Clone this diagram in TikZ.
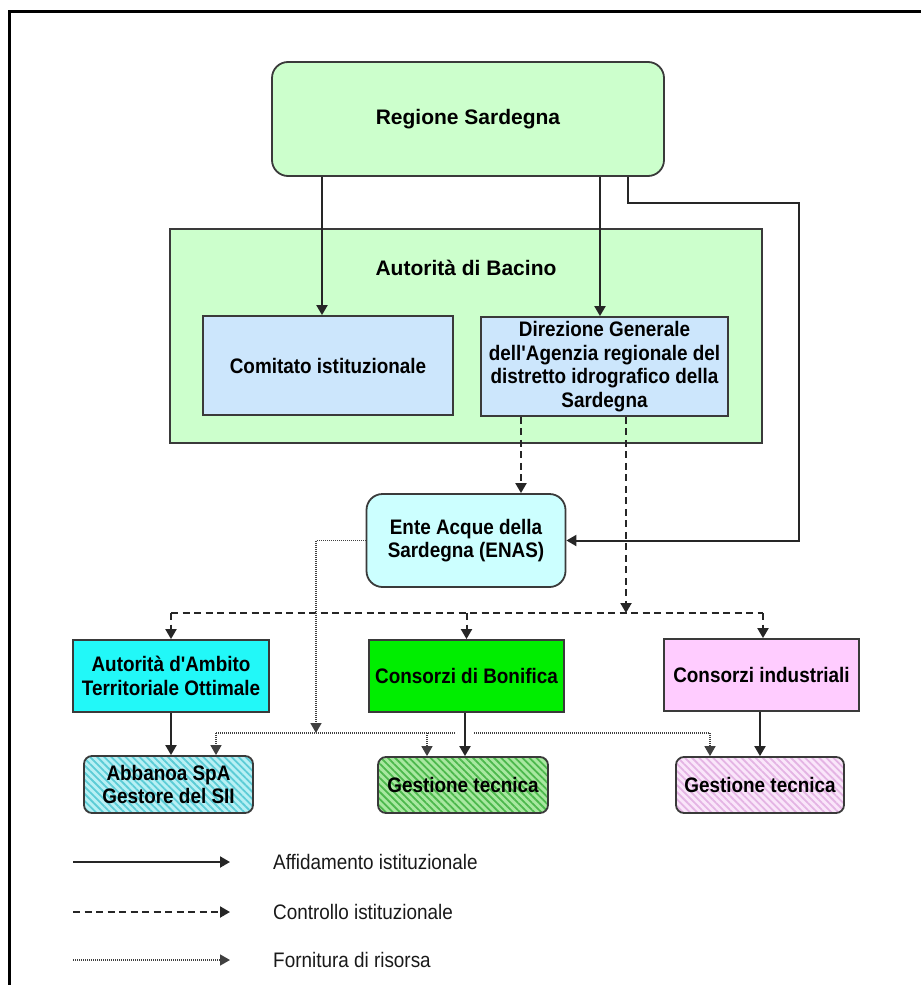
\documentclass[tikz,border=0pt]{standalone}
\usepackage{fontspec}
\setmainfont{Liberation Sans}
\newfontfamily\nfont[FakeStretch=0.9]{Liberation Sans}
\usetikzlibrary{arrows.meta,patterns.meta}
\definecolor{bord}{HTML}{3A3A3A}
\definecolor{linec}{HTML}{262626}
\definecolor{dotc}{HTML}{404040}
\definecolor{lgreen}{HTML}{CCFFCC}
\definecolor{lblue}{HTML}{CCE6FC}
\definecolor{lcyan}{HTML}{CCFFFF}
\definecolor{cyanb}{HTML}{22F8F8}
\definecolor{greenb}{HTML}{00EE00}
\definecolor{pinkb}{HTML}{FFCCFF}
\definecolor{hcyanbg}{HTML}{B8F0F4}
\definecolor{hcyanfg}{HTML}{5CCCD6}
\definecolor{hgreenbg}{HTML}{A8E8A0}
\definecolor{hgreenfg}{HTML}{4CB84C}
\definecolor{hpinkbg}{HTML}{FAE6FA}
\definecolor{hpinkfg}{HTML}{E4B4E4}
\begin{document}
\begin{tikzpicture}[x=1pt,y=-1pt,
  boxtext/.style={font=\nfont\bfseries\fontsize{21}{23.5}\selectfont, text=black, align=center},
  titletext/.style={font=\bfseries\fontsize{21}{24}\selectfont, text=black, align=center},
  box/.style={draw=bord, line width=1.8pt, inner sep=0pt, boxtext},
  rbox/.style={box, rounded corners=16pt},
  hbox/.style={box, rounded corners=8pt, preaction={fill=#1bg}, pattern={Lines[angle=-45,distance=5pt,line width=1.8pt]}, pattern color=#1fg},
  conn/.style={draw=linec, line width=2pt},
  dsh/.style={conn, dash pattern=on 7pt off 4.5pt},
  dtt/.style={draw=dotc, line width=1.6pt, dash pattern=on 1pt off 1pt},
  arr/.style={-{Triangle[length=10pt,width=11pt]}},
  legtext/.style={font=\nfont\fontsize{21}{24}\selectfont, text=black!90, anchor=west, inner sep=0pt}
]
\useasboundingbox (0,0) rectangle (921,985);
% frame
\coordinate (fr1) at (9,985);
\coordinate (fr2) at (9,11);
\coordinate (fr3) at (921,11);
\draw[line width=3pt, black] (fr1) -- (fr2) -- (fr3);

% nodes
\node[rbox, fill=lgreen, minimum width=392pt, minimum height=114pt, titletext] (reg) at (468,119) {Regione Sardegna};
\node[box, fill=lgreen, minimum width=592pt, minimum height=214pt] (bac) at (466,336) {};
\node[titletext] (bacT) at (466,268) {Autorità di Bacino};
\node[box, fill=lblue, minimum width=250pt, minimum height=99pt] (com) at (328,365.5) {Comitato istituzionale};
\node[box, fill=lblue, minimum width=247pt, minimum height=99pt] (dir) at (604.5,366.5) {Direzione Generale\\dell'Agenzia regionale del\\distretto idrografico della\\Sardegna};
\node[rbox, fill=lcyan, minimum width=199pt, minimum height=93pt] (enas) at (466,540.5) {Ente Acque della\\Sardegna (ENAS)};
\node[box, fill=cyanb, minimum width=196pt, minimum height=72pt] (aato) at (171,676) {Autorità d'Ambito\\Territoriale Ottimale};
\node[box, fill=greenb, minimum width=195pt, minimum height=72pt] (bon) at (466.5,676) {Consorzi di Bonifica};
\node[box, fill=pinkb, minimum width=195pt, minimum height=72pt] (ind) at (761.5,675) {Consorzi industriali};
\node[hbox=hcyan, minimum width=169pt, minimum height=57pt] (abb) at (168.5,784.5) {Abbanoa SpA\\Gestore del SII};
\node[hbox=hgreen, minimum width=170pt, minimum height=56pt] (gg) at (463,785) {Gestione tecnica};
\node[hbox=hpink, minimum width=168pt, minimum height=56pt] (gp) at (760,785) {Gestione tecnica};

% helper coordinates
\coordinate (cA) at (322,0);
\coordinate (cB) at (600,0);
\coordinate (r1) at (628,203);
\coordinate (r2) at (799,203);
\coordinate (cD1) at (521,0);
\coordinate (cD2) at (626,613);
\coordinate (dL) at (171,613);
\coordinate (dM) at (466.5,613);
\coordinate (dR) at (763,613);
\coordinate (eD) at (316,733);
\coordinate (h1) at (216,733);
\coordinate (g1) at (456,733);
\coordinate (g2) at (474,733);
\coordinate (h2) at (710,733);
\coordinate (hG) at (427,733);
\coordinate (sA) at (171,0);
\coordinate (sB) at (465,0);
\coordinate (sC) at (760,0);

% solid connectors (affidamento)
\draw[conn,arr] (reg.south -| cA) -- (com.north -| cA);
\draw[conn,arr] (reg.south -| cB) -- (dir.north -| cB);
\draw[conn,arr] (reg.south -| r1) -- (r1) -- (r2) -- (r2 |- enas.east) -- (enas.east);
\draw[conn,arr] (aato.south -| sA) -- (abb.north -| sA);
\draw[conn,arr] (bon.south -| sB) -- (gg.north -| sB);
\draw[conn,arr] (ind.south -| sC) -- (gp.north -| sC);

% dashed connectors (controllo)
\draw[dsh,arr] (dir.south -| cD1) -- (enas.north -| cD1);
\draw[dsh,arr] (dir.south -| cD2) -- (cD2);
\draw[dsh] (dL) -- (dR);
\draw[dsh,arr] (dL) -- (aato.north -| dL);
\draw[dsh,arr] (dM) -- (bon.north);
\draw[dsh,arr] (dR) -- (ind.north -| dR);

% dotted connectors (fornitura)
\draw[dtt,arr] (enas.west) -| (eD);
\draw[dtt] (h1) -- (g1);
\draw[dtt] (g2) -- (h2);
\draw[dtt,arr] (h1) -- (abb.north -| h1);
\draw[dtt,arr] (hG) -- (gg.north -| hG);
\draw[dtt,arr] (h2) -- (gp.north -| h2);

% legend
\coordinate (l1a) at (73,862);
\coordinate (l1b) at (230,862);
\coordinate (l2a) at (73,912);
\coordinate (l2b) at (230,912);
\coordinate (l3a) at (73,960);
\coordinate (l3b) at (230,960);
\draw[conn,arr] (l1a) -- (l1b);
\draw[dsh,arr] (l2a) -- (l2b);
\draw[dtt,arr] (l3a) -- (l3b);
\node[legtext] (t1) at (273,862) {Affidamento istituzionale};
\node[legtext] (t2) at (273,912) {Controllo istituzionale};
\node[legtext] (t3) at (273,960) {Fornitura di risorsa};
\end{tikzpicture}
\end{document}
